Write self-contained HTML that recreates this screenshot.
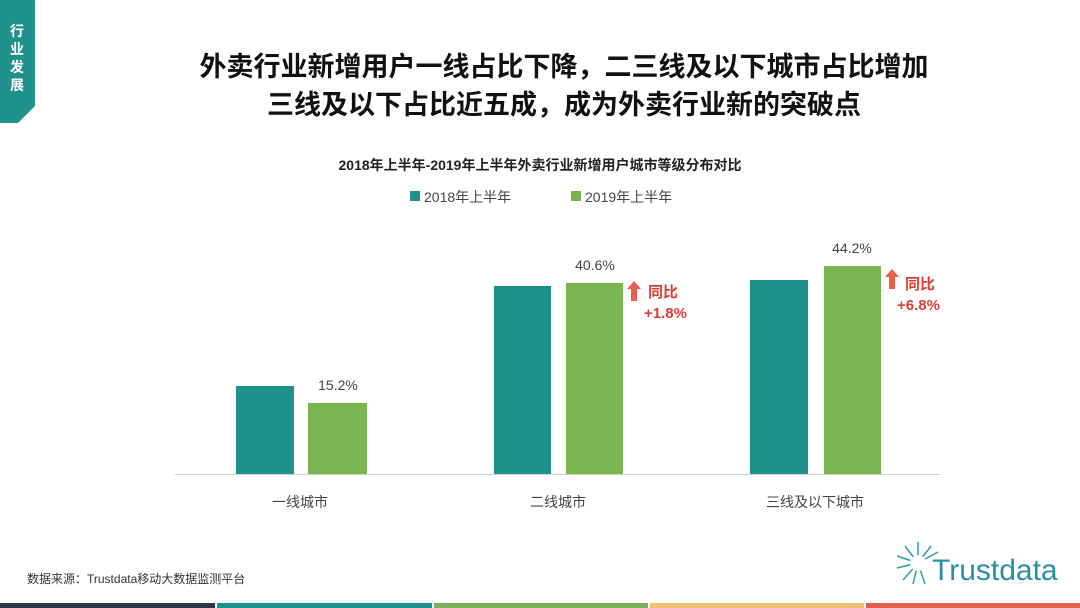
<!DOCTYPE html>
<html><head><meta charset="utf-8"><style>
body{margin:0;width:1080px;height:608px;background:#fff;overflow:hidden;position:relative;font-family:"Liberation Sans","Noto Sans CJK SC",sans-serif}
.a{position:absolute}
.bar{position:absolute}
.t{background:#1f918c}.g{background:#79b550}
.lbl{position:absolute;font-size:14px;color:#444;text-align:center;width:100px}
.red{color:#e03c31;font-weight:bold;font-size:15px}
</style></head><body>
<svg class="a" style="left:0;top:0" width="40" height="125"><polygon points="0,0 35,0 35,106 18,123 0,123" fill="#1f918c"/></svg>
<div class="a" style="left:5px;top:22px;width:24px;color:#fff;font-weight:bold;font-size:14px;line-height:18px;text-align:center">行<br>业<br>发<br>展</div>
<div class="a" style="left:0;top:48px;width:1128px;text-align:center;font-weight:bold;font-size:27px;color:#111;line-height:39px">外卖行业新增用户一线占比下降，二三线及以下城市占比增加</div>
<div class="a" style="left:0;top:86px;width:1128px;text-align:center;font-weight:bold;font-size:27px;color:#111;line-height:39px">三线及以下占比近五成，成为外卖行业新的突破点</div>
<div class="a" style="left:0;top:155px;width:1080px;text-align:center;font-weight:bold;font-size:14px;color:#222">2018年上半年-2019年上半年外卖行业新增用户城市等级分布对比</div>
<div class="a t" style="left:410px;top:191px;width:10px;height:10px"></div>
<div class="a" style="left:424px;top:187px;font-size:14px;color:#444">2018年上半年</div>
<div class="a g" style="left:571px;top:191px;width:10px;height:10px"></div>
<div class="a" style="left:585px;top:187px;font-size:14px;color:#444">2019年上半年</div>
<div class="a" style="left:175px;top:474px;width:765px;height:1px;background:#ccc"></div>
<div class="bar t" style="left:236px;top:386px;width:58px;height:88px"></div>
<div class="bar g" style="left:308px;top:403px;width:59px;height:71px"></div>
<div class="bar t" style="left:494px;top:286px;width:57px;height:188px"></div>
<div class="bar g" style="left:566px;top:283px;width:57px;height:191px"></div>
<div class="bar t" style="left:750px;top:280px;width:58px;height:194px"></div>
<div class="bar g" style="left:824px;top:266px;width:57px;height:208px"></div>
<div class="lbl" style="left:288px;top:377px">15.2%</div>
<div class="lbl" style="left:545px;top:257px">40.6%</div>
<div class="lbl" style="left:802px;top:240px">44.2%</div>
<div class="lbl" style="left:235px;top:492px;width:130px">一线城市</div>
<div class="lbl" style="left:493px;top:492px;width:130px">二线城市</div>
<div class="lbl" style="left:750px;top:492px;width:130px">三线及以下城市</div>
<svg class="a" style="left:627px;top:281px" width="14" height="20"><polygon points="7,0 14,8 10,8 10,20 4,20 4,8 0,8" fill="#e8604c"/></svg>
<div class="a red" style="left:648px;top:281px">同比</div>
<div class="a red" style="left:644px;top:305px">+1.8%</div>
<svg class="a" style="left:885px;top:269px" width="14" height="20"><polygon points="7,0 14,8 10,8 10,20 4,20 4,8 0,8" fill="#e8604c"/></svg>
<div class="a red" style="left:905px;top:273px">同比</div>
<div class="a red" style="left:897px;top:297px">+6.8%</div>
<div class="a" style="left:27px;top:570px;font-size:12px;color:#333">数据来源：Trustdata移动大数据监测平台</div>
<svg class="a" style="left:893px;top:538px" width="50" height="50"><g stroke="#2aa0b0" stroke-width="1.5">
<line x1="25" y1="25" x2="25" y2="4"/><line x1="25" y1="25" x2="38" y2="8"/><line x1="25" y1="25" x2="12" y2="8"/><line x1="25" y1="25" x2="4" y2="18"/><line x1="25" y1="25" x2="4" y2="30"/><line x1="25" y1="25" x2="10" y2="42"/><line x1="25" y1="25" x2="20" y2="46"/><line x1="25" y1="25" x2="32" y2="46"/><line x1="25" y1="25" x2="45" y2="14"/></g><circle cx="25" cy="25" r="8" fill="#fff"/></svg>
<div class="a" style="left:932px;top:554px;font-size:30px;color:#2a8fa6">Trustdata</div>
<div class="a" style="left:0;top:603px;width:215px;height:5px;background:#2c3a48"></div>
<div class="a" style="left:217px;top:603px;width:215px;height:5px;background:#1f918c"></div>
<div class="a" style="left:434px;top:603px;width:214px;height:5px;background:#7fb060"></div>
<div class="a" style="left:650px;top:603px;width:214px;height:5px;background:#f0c070"></div>
<div class="a" style="left:866px;top:603px;width:214px;height:5px;background:#e06050"></div>
</body></html>
